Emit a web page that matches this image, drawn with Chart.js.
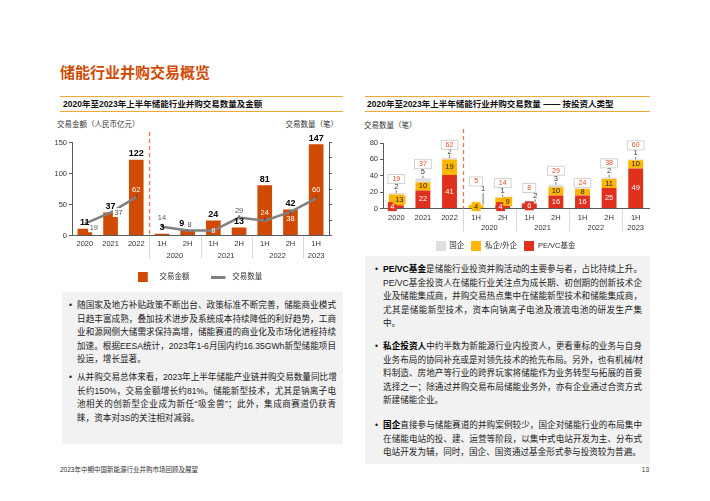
<!DOCTYPE html>
<html>
<head>
<meta charset="utf-8">
<script src="https://cdn.jsdelivr.net/npm/chart.js@4.4.0/dist/chart.umd.min.js"></script>
<style>
  html, body { margin: 0; padding: 0; background: #fff; }
  body { width: 710px; height: 501px; position: relative; overflow: hidden;
         font-family: "Liberation Sans", "Noto Sans CJK SC", sans-serif; color: #222; }
  .abs { position: absolute; white-space: nowrap; }
  .page-title { left: 60px; top: 60px; font-size: 15px; line-height: 24px; font-weight: bold;
                color: #D04A02; font-family: "Noto Sans CJK SC", sans-serif; }
  .panel-head { position: absolute; top: 96px; height: 14px; border-top: 1px solid #F5A83A;
                border-bottom: 1px solid #F5A83A; font-size: 8.5px; line-height: 14px;
                font-weight: bold; color: #111; white-space: nowrap; }
  .axis-title { font-size: 7.5px; line-height: 10px; color: #333; }
  .box { position: absolute; background: #F2F2F2; }
  .para { position: absolute; width: 259px; font-size: 8.6px; line-height: 13.6px; color: #222; }
  .para .dot { position: absolute; left: -8px; top: 0; }
  .para .ln { text-align: justify; text-align-last: justify; white-space: nowrap; }
  .para .ln.end { text-align-last: left; }
  .para b { color: #000; }
  canvas { position: absolute; }
  .foot { font-size: 6.5px; line-height: 8px; color: #333; }
</style>
</head>
<body>

<div class="abs page-title">储能行业并购交易概览</div>

<div class="panel-head" style="left:60px;width:280px;padding-left:3px;">2020年至2023年上半年储能行业并购交易数量及金额</div>
<div class="panel-head" style="left:365px;width:283px;padding-left:2px;">2020年至2023年上半年储能行业并购交易数量 —— 按投资人类型</div>

<div class="abs axis-title" style="left:57px;top:120px;">交易金额（人民币亿元）</div>
<div class="abs axis-title" style="right:372px;top:120px;">交易数量（笔）</div>
<div class="abs axis-title" style="left:364px;top:121px;">交易数量（笔）</div>

<canvas id="amountChart" width="296" height="163" style="left:52px;top:128px;"></canvas>
<canvas id="investorChart" width="307" height="132" style="left:362px;top:128px;"></canvas>

<div class="box" style="left:62px;top:292px;width:281px;height:152px;"></div>
<div class="para" style="left:77px;top:299px;">
  <span class="dot">•</span>
  <div class="ln">随国家及地方补贴政策不断出台、政策标准不断完善，储能商业模式</div>
  <div class="ln">日趋丰富成熟，叠加技术进步及系统成本持续降低的利好趋势，工商</div>
  <div class="ln">业和源网侧大储需求保持高增，储能赛道的商业化及市场化进程持续</div>
  <div class="ln">加速。根据EESA统计，2023年1-6月国内约16.35GWh新型储能项目</div>
  <div class="ln end">投运，增长显著。</div>
</div>
<div class="para" style="left:77px;top:371px;">
  <span class="dot">•</span>
  <div class="ln">从并购交易总体来看，2023年上半年储能产业链并购交易数量同比增</div>
  <div class="ln">长约150%，交易金额增长约81%。储能新型技术，尤其是钠离子电</div>
  <div class="ln">池相关的创新型企业成为新任“吸金兽”；此外，集成商赛道仍获青</div>
  <div class="ln end">睐，资本对3S的关注相对减弱。</div>
</div>

<div class="box" style="left:365px;top:256px;width:285px;height:208px;"></div>
<div class="para" style="left:383px;top:263px;">
  <span class="dot">•</span>
  <div class="ln"><b>PE/VC基金</b>是储能行业投资并购活动的主要参与者，占比持续上升。</div>
  <div class="ln">PE/VC基金投资人在储能行业关注点为成长期、初创期的创新技术企</div>
  <div class="ln">业及储能集成商，并购交易热点集中在储能新型技术和储能集成商，</div>
  <div class="ln">尤其是储能新型技术，资本向钠离子电池及液流电池的研发生产集</div>
  <div class="ln end">中。</div>
</div>
<div class="para" style="left:383px;top:340px;">
  <span class="dot">•</span>
  <div class="ln"><b>私企投资人</b>中约半数为新能源行业内投资人，更看重标的业务与自身</div>
  <div class="ln">业务布局的协同补充或是对领先技术的抢先布局。另外，也有机械/材</div>
  <div class="ln">料制造、房地产等行业的跨界玩家将储能作为业务转型与拓展的首要</div>
  <div class="ln">选择之一；除通过并购交易布局储能业务外，亦有企业通过合资方式</div>
  <div class="ln end">新建储能企业。</div>
</div>
<div class="para" style="left:383px;top:419px;">
  <span class="dot">•</span>
  <div class="ln"><b>国企</b>直接参与储能赛道的并购案例较少，国企对储能行业的布局集中</div>
  <div class="ln">在储能电站的投、建、运营等阶段，以集中式电站开发为主、分布式</div>
  <div class="ln end">电站开发为辅，同时，国企、国资通过基金形式参与投资较为普遍。</div>
</div>

<div class="abs foot" style="left:60px;top:466px;">2023年中期中国新能源行业并购市场回顾及展望</div>
<div class="abs foot" style="right:61px;top:466px;">13</div>

<script>
// categories on both charts (annual first, then half-years)
const categories = ['2020', '2021', '2022', '1H', '2H', '1H', '2H', '1H', '2H', '1H'];
const halfYearGroups = ['2020', '2021', '2022', '2023'];
const groupFirst = [3, 5, 7, 9];
const groupLast = [4, 6, 8, 9];

// left chart: amount (亿元) and number of deals
const dealAmounts = [11, 37, 122, 3, 9, 24, 13, 81, 42, 147];
const dealCounts = [19, 37, 62, 14, 8, 8, 29, 24, 38, 60];
const amountTicks = [0, 50, 100, 150];
const countAxisTicks = [0, 25, 50, 75, 100, 125, 150];

// right chart: deals by investor type
const peVcCounts = [4, 22, 41, 0, 4, 6, 16, 16, 25, 49];
const privateCounts = [13, 10, 19, 4, 9, 0, 10, 8, 11, 10];
const stateCounts = [2, 5, 2, 1, 1, 2, 3, 0, 2, 1];
const investorTicks = [0, 20, 40, 60, 80];

const ORANGE = '#D04A02';
const GREY_LINE = '#808080';
const RED = '#E0301E';
const YELLOW = '#FFB600';
const LIGHT = '#DEDEDE';
const AXIS = '#595959';
const FONT = '"Liberation Sans", "Noto Sans CJK SC", sans-serif';

Chart.defaults.font.family = FONT;
Chart.defaults.font.size = 7.5;
Chart.defaults.color = '#333';
Chart.defaults.animation = false;

// label placement tweaks (style only)
const amountDx = [0, 0, 0, 0, -6, 0, 0, 0, 0, 0];
const countDx = [9, 8, 0, 0, 2, 0, 0, 0, 0, 0];
const countDy = [4, 0, -7, -9, -6, 0, -7, -8, 7, -8];
const countInBar = [false, false, true, false, false, true, false, true, true, true];

const peDx = [-4, 0, 0, 0, -2, 0, 0, 0, 0, 0];
const privDx = [3, 0, 0, 0, 5, 0, 0, 0, 0, 0];
const privBoxed = [true, false, false, true, true, false, false, false, false, false];
const stateDx = [0, 0, 0, 7, 0, 6, 0, 0, 0, 0];
const stateLift = [6, 6, 6, 15, 6, 6, 6, 6, 6, 6];
const totalLift = [14, 14, 13, 23, 14, 14, 14, 6, 14, 14];

function icon(w, h, draw) {
  const c = document.createElement('canvas');
  c.width = w; c.height = h;
  draw(c.getContext('2d'));
  return c;
}
const leftIcons = [
  icon(18, 10, g => { g.fillStyle = ORANGE; g.fillRect(0, 0, 10, 10); }),
  icon(18, 3, g => { g.fillStyle = GREY_LINE; g.fillRect(0, 0, 15, 3); })
];
const rightIcons = [RED, YELLOW, LIGHT].map(col => icon(10, 10, g => { g.fillStyle = col; g.fillRect(0, 0, 10, 10); }));

function setTicks(values) {
  return scale => { scale.ticks = values.map(v => ({ value: v })); };
}

// group labels under the half-year ticks, separators, dashed divider
const groupPlugin = {
  id: 'groups',
  afterDraw(chart, args, opts) {
    const { ctx, chartArea } = chart;
    const x = chart.scales.x;
    const mid = (a, b) => (x.getPixelForValue(a) + x.getPixelForValue(b)) / 2;
    ctx.save();
    ctx.strokeStyle = '#D9D9D9';
    ctx.lineWidth = 1;
    groupFirst.forEach(i => {
      const px = Math.round(mid(i - 1, i)) + 0.5;
      ctx.beginPath();
      ctx.moveTo(px, chartArea.bottom + 1);
      ctx.lineTo(px, chartArea.bottom + opts.sepLen);
      ctx.stroke();
    });
    ctx.fillStyle = '#333';
    ctx.font = '7.5px ' + FONT;
    ctx.textAlign = 'center';
    ctx.textBaseline = 'middle';
    halfYearGroups.forEach((g, k) => {
      ctx.fillText(g, mid(groupFirst[k], groupLast[k]), chartArea.bottom + opts.groupDy);
    });
    const dx = Math.round(mid(2, 3)) + 0.5;
    ctx.strokeStyle = '#E8784E';
    ctx.lineWidth = 1.3;
    ctx.setLineDash([4, 3]);
    ctx.beginPath();
    ctx.moveTo(dx, chartArea.top - opts.dashAbove);
    ctx.lineTo(dx, chartArea.bottom);
    ctx.stroke();
    ctx.restore();
  }
};

const amountLabelPlugin = {
  id: 'amountLabels',
  afterDatasetsDraw(chart) {
    const ctx = chart.ctx;
    const bars = chart.getDatasetMeta(0).data;
    const annual = chart.getDatasetMeta(1).data;
    const half = chart.getDatasetMeta(2).data;
    ctx.save();
    ctx.textAlign = 'center';
    ctx.textBaseline = 'middle';
    ctx.font = '7.5px ' + FONT;
    dealCounts.forEach((v, i) => {
      const pt = (i < 3 ? annual : half)[i];
      const x = pt.x + countDx[i];
      const y = pt.y + countDy[i];
      if (Math.abs(countDy[i]) >= 6) {
        ctx.strokeStyle = '#444';
        ctx.lineWidth = 1;
        const dir = Math.sign(countDy[i]);
        ctx.beginPath();
        ctx.moveTo(pt.x, pt.y);
        ctx.lineTo(pt.x, pt.y + dir * 3);
        ctx.stroke();
      }
      if (countInBar[i]) {
        ctx.fillStyle = '#fff';
      } else {
        const w = ctx.measureText(String(v)).width + 3;
        ctx.fillStyle = '#fff';
        ctx.fillRect(x - w / 2, y - 4.5, w, 9);
        ctx.fillStyle = '#555';
      }
      ctx.fillText(String(v), x, y);
    });
    ctx.font = 'bold 9px ' + FONT;
    ctx.fillStyle = '#000';
    bars.forEach((b, i) => ctx.fillText(String(dealAmounts[i]), b.x + amountDx[i], b.y - 6));
    ctx.restore();
  }
};

function segLabel(ctx, el, value, dx, color, boxColor) {
  const x = el.x + dx;
  const y = (el.y + el.base) / 2;
  if (boxColor) {
    const w = Math.max(ctx.measureText(String(value)).width + 4, 9);
    ctx.fillStyle = boxColor;
    ctx.fillRect(x - w / 2, y - 4.5, w, 9);
  }
  ctx.fillStyle = color;
  ctx.fillText(String(value), x, y);
}

const investorLabelPlugin = {
  id: 'investorLabels',
  afterDatasetsDraw(chart) {
    const ctx = chart.ctx;
    const pe = chart.getDatasetMeta(0).data;
    const pr = chart.getDatasetMeta(1).data;
    const st = chart.getDatasetMeta(2).data;
    ctx.save();
    ctx.textAlign = 'center';
    ctx.textBaseline = 'middle';
    categories.forEach((c, i) => {
      ctx.font = '7.5px ' + FONT;
      if (peVcCounts[i]) segLabel(ctx, pe[i], peVcCounts[i], peDx[i], '#fff', peVcCounts[i] < 8 ? RED : null);
      if (privateCounts[i]) segLabel(ctx, pr[i], privateCounts[i], privDx[i], '#222', privBoxed[i] ? YELLOW : null);
      const x = st[i].x;
      const top = st[i].y;
      if (stateCounts[i]) {
        const gx = x + stateDx[i];
        const gy = top - stateLift[i];
        ctx.strokeStyle = '#555';
        ctx.lineWidth = 0.8;
        ctx.beginPath();
        ctx.moveTo(gx, gy + 3.5);
        ctx.lineTo(gx, top);
        ctx.stroke();
        ctx.fillStyle = '#333';
        ctx.fillText(String(stateCounts[i]), gx, gy);
      }
      const total = peVcCounts[i] + privateCounts[i] + stateCounts[i];
      ctx.font = '7px ' + FONT;
      const ty = top - totalLift[i];
      const w = ctx.measureText(String(total)).width + 9;
      ctx.fillStyle = '#fff';
      ctx.fillRect(x - w / 2, ty - 4.5, w, 9);
      ctx.strokeStyle = '#C8C8C8';
      ctx.lineWidth = 0.8;
      ctx.strokeRect(x - w / 2, ty - 4.5, w, 9);
      ctx.fillStyle = '#E0501E';
      ctx.fillText(String(total), x, ty);
    });
    ctx.restore();
  }
};

const axisBorder = { color: AXIS, width: 1 };

// left chart
new Chart(document.getElementById('amountChart'), {
  data: {
    labels: categories,
    datasets: [
      {
        type: 'bar',
        label: '交易金额',
        data: dealAmounts,
        backgroundColor: ORANGE,
        barPercentage: 0.57,
        categoryPercentage: 1,
        yAxisID: 'y',
        order: 1
      },
      {
        type: 'line',
        label: '交易数量',
        data: dealCounts.map((v, i) => (i < 3 ? v : null)),
        borderColor: GREY_LINE,
        borderWidth: 2.5,
        pointRadius: 0,
        yAxisID: 'y1',
        order: 0
      },
      {
        type: 'line',
        label: '交易数量',
        data: dealCounts.map((v, i) => (i < 3 ? null : v)),
        borderColor: GREY_LINE,
        borderWidth: 2.5,
        pointRadius: 0,
        yAxisID: 'y1',
        order: 0
      }
    ]
  },
  options: {
    responsive: false,
    layout: { padding: { top: 14.5 } },
    scales: {
      x: {
        grid: { display: false, drawTicks: false },
        border: axisBorder,
        ticks: { padding: 4, autoSkip: false, maxRotation: 0 },
        afterFit: s => { s.height = 17; }
      },
      y: {
        position: 'left',
        min: 0, max: 150,
        afterBuildTicks: setTicks(amountTicks),
        grid: { drawOnChartArea: false, tickLength: 3, color: AXIS },
        border: axisBorder,
        ticks: { padding: 2 },
        afterFit: s => { s.width = 20; }
      },
      y1: {
        position: 'right',
        min: 0, max: 150,
        afterBuildTicks: setTicks(countAxisTicks),
        grid: { drawOnChartArea: false, tickLength: 3, color: AXIS },
        border: axisBorder,
        ticks: { display: false },
        afterFit: s => { s.width = 19; }
      }
    },
    plugins: {
      tooltip: { enabled: false },
      groups: { sepLen: 23, groupDy: 20, dashAbove: 10.5 },
      legend: {
        position: 'bottom',
        labels: {
          usePointStyle: true,
          pointStyleWidth: 18,
          padding: 21,
          font: { size: 7.5 },
          color: '#333',
          filter: item => item.datasetIndex !== 2,
          sort: (a, b) => a.datasetIndex - b.datasetIndex,
          generateLabels: chart => {
            const items = Chart.defaults.plugins.legend.labels.generateLabels(chart);
            items.forEach(it => { it.pointStyle = leftIcons[Math.min(it.datasetIndex, 1)]; });
            return items;
          }
        }
      }
    }
  },
  plugins: [groupPlugin, amountLabelPlugin]
});

// right chart
new Chart(document.getElementById('investorChart'), {
  type: 'bar',
  data: {
    labels: categories,
    datasets: [
      { label: 'PE/VC基金', data: peVcCounts, backgroundColor: RED },
      { label: '私企/外企', data: privateCounts, backgroundColor: YELLOW },
      { label: '国企', data: stateCounts, backgroundColor: LIGHT }
    ]
  },
  options: {
    responsive: false,
    datasets: { bar: { barPercentage: 0.56, categoryPercentage: 1 } },
    layout: { padding: { top: 15, right: 20 } },
    scales: {
      x: {
        stacked: true,
        grid: { display: false, drawTicks: false },
        border: axisBorder,
        ticks: { padding: 5, autoSkip: false, maxRotation: 0 },
        afterFit: s => { s.height = 27; }
      },
      y: {
        stacked: true,
        min: 0, max: 80,
        afterBuildTicks: setTicks(investorTicks),
        grid: { drawOnChartArea: false, tickLength: 3, color: AXIS },
        border: axisBorder,
        ticks: { padding: 2 },
        afterFit: s => { s.width = 21; }
      }
    },
    plugins: {
      tooltip: { enabled: false },
      groups: { sepLen: 23, groupDy: 19.5, dashAbove: 21 },
      legend: {
        position: 'bottom',
        reverse: true,
        labels: {
          usePointStyle: true,
          pointStyleWidth: 10,
          padding: 7,
          font: { size: 7.5 },
          color: '#333',
          generateLabels: chart => {
            const items = Chart.defaults.plugins.legend.labels.generateLabels(chart);
            items.forEach(it => { it.pointStyle = rightIcons[it.datasetIndex]; });
            return items;
          }
        }
      }
    }
  },
  plugins: [groupPlugin, investorLabelPlugin]
});
</script>
</body>
</html>
